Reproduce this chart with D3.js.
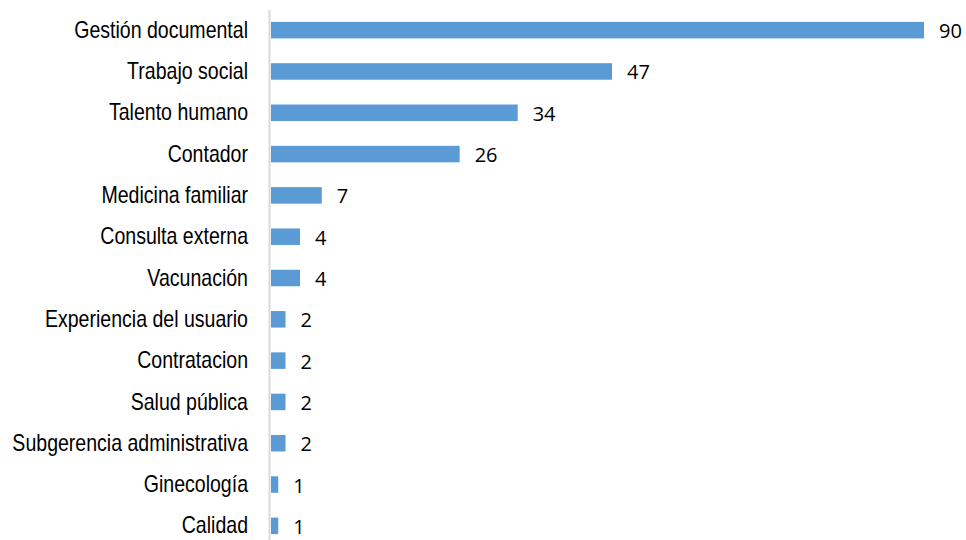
<!DOCTYPE html>
<html>
<head>
<meta charset="utf-8">
<script src="https://cdn.jsdelivr.net/npm/d3@7"></script>
<style>
  html, body { margin: 0; padding: 0; background: #ffffff; }
  svg { display: block; }
</style>
</head>
<body>
<svg id="chart" width="966" height="540"></svg>
<script>
// Areas and number of records per area
const categories = [
  "Gestión documental", "Trabajo social", "Talento humano", "Contador",
  "Medicina familiar", "Consulta externa", "Vacunación",
  "Experiencia del usuario", "Contratacion", "Salud pública",
  "Subgerencia administrativa", "Ginecología", "Calidad"
];
const values = [90, 47, 34, 26, 7, 4, 4, 2, 2, 2, 2, 1, 1];

const width = 966, height = 540;

const svg = d3.select("#chart");

const x = d3.scaleLinear()
  .domain([0, 90])
  .range([271, 924]);

const y = d3.scaleBand()
  .domain(categories)
  .range([9.5, 546.5])
  .paddingInner(0.6)
  .paddingOuter(0.3);

// Bars
svg.append("g")
  .selectAll("rect")
  .data(values)
  .join("rect")
  .attr("x", x(0))
  .attr("y", (d, i) => y(categories[i]))
  .attr("width", d => x(d) - x(0))
  .attr("height", y.bandwidth())
  .attr("fill", "#5B9BD5");

// Vertical category axis line
svg.append("line")
  .attr("x1", 269.5).attr("x2", 269.5)
  .attr("y1", 10).attr("y2", height)
  .attr("stroke", "#d9d9d9")
  .attr("stroke-width", 2);

// Category labels (condensed sans)
const yAxis = d3.axisLeft(y).tickSize(0).tickPadding(0);
const ga = svg.append("g")
  .attr("transform", "translate(248,0)")
  .call(yAxis);
ga.select(".domain").remove();
ga.selectAll("text")
  .attr("font-family", "'Liberation Sans Narrow', 'Liberation Sans', Arial, sans-serif")
  .attr("font-size", 23)
  .attr("dy", "0.33em")
  .attr("transform", "scale(0.85,1)")
  .attr("fill", "#000");

// Value labels
svg.append("g")
  .selectAll("text")
  .data(values)
  .join("text")
  .attr("x", d => x(d) + 15)
  .attr("y", (d, i) => y(categories[i]) + y.bandwidth() / 2)
  .attr("dy", "0.4em")
  .attr("font-family", "'Open Sans', 'Noto Sans', sans-serif")
  .attr("font-size", 20)
  .attr("fill", "#000")
  .text(d => d);
</script>
</body>
</html>
